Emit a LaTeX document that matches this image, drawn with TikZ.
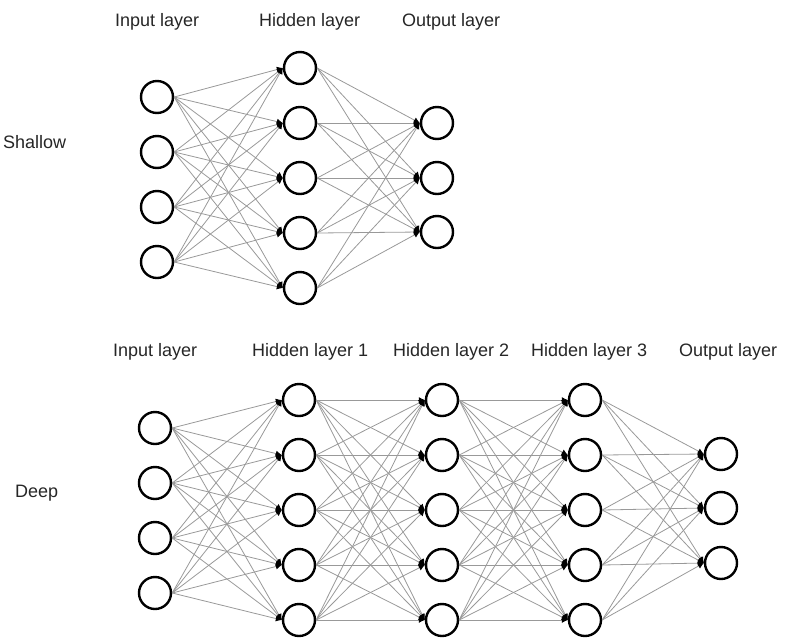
\documentclass[tikz,border=0pt]{standalone}
\usepackage{fontspec}
\setmainfont{Liberation Sans}
\usetikzlibrary{arrows.meta}
\begin{document}
\begin{tikzpicture}[x=1pt,y=-1pt,
  neuron/.style={circle,draw=black,line width=2.4pt,fill=white,minimum size=32pt,inner sep=0pt},
  conn/.style={draw=gray!80,line width=0.8pt,-{Latex[length=6pt,width=6pt,color=black]}},
  lbl/.style={anchor=base west,inner sep=0pt,text=black!85,font=\fontsize{18}{20}\selectfont}]
\useasboundingbox (0,0) rectangle (803,638);
% ---------- Shallow ----------
\node[lbl] (tsi) at (115,26) {Input layer};
\node[lbl] (tsh) at (259,26) {Hidden layer};
\node[lbl] (tso) at (402,26) {Output layer};
\node[lbl] (tshallow) at (3,148) {Shallow};
\foreach \i/\y in {1/97,2/152,3/207,4/262} \node[neuron] (si\i) at (157,\y) {};
\foreach \i/\y in {1/68,2/123,3/178,4/233,5/288} \node[neuron] (sh\i) at (300,\y) {};
\foreach \i/\y in {1/123,2/178,3/232} \node[neuron] (so\i) at (437,\y) {};
\foreach \a in {1,...,4} \foreach \b in {1,...,5} \draw[conn] (si\a.east) -- (sh\b.west);
\foreach \a in {1,...,5} \foreach \b in {1,...,3} \draw[conn] (sh\a.east) -- (so\b.west);
% ---------- Deep ----------
\node[lbl] (tdi) at (113,356) {Input layer};
\node[lbl] (td1) at (252,356) {Hidden layer 1};
\node[lbl] (td2) at (393,356) {Hidden layer 2};
\node[lbl] (td3) at (531,356) {Hidden layer 3};
\node[lbl] (tdo) at (679,356) {Output layer};
\node[lbl] (tdeep) at (15,497) {Deep};
\foreach \i/\y in {1/428,2/483,3/538,4/593} \node[neuron] (di\i) at (155,\y) {};
\foreach \i/\y in {1/400,2/455,3/510,4/565,5/620} {
  \node[neuron] (da\i) at (299,\y) {};
  \node[neuron] (db\i) at (442,\y) {};
  \node[neuron] (dc\i) at (585,\y) {};
}
\foreach \i/\y in {1/454,2/508,3/563} \node[neuron] (do\i) at (721,\y) {};
\foreach \a in {1,...,4} \foreach \b in {1,...,5} \draw[conn] (di\a.east) -- (da\b.west);
\foreach \a in {1,...,5} \foreach \b in {1,...,5} \draw[conn] (da\a.east) -- (db\b.west);
\foreach \a in {1,...,5} \foreach \b in {1,...,5} \draw[conn] (db\a.east) -- (dc\b.west);
\foreach \a in {1,...,5} \foreach \b in {1,...,3} \draw[conn] (dc\a.east) -- (do\b.west);
\end{tikzpicture}
\end{document}
